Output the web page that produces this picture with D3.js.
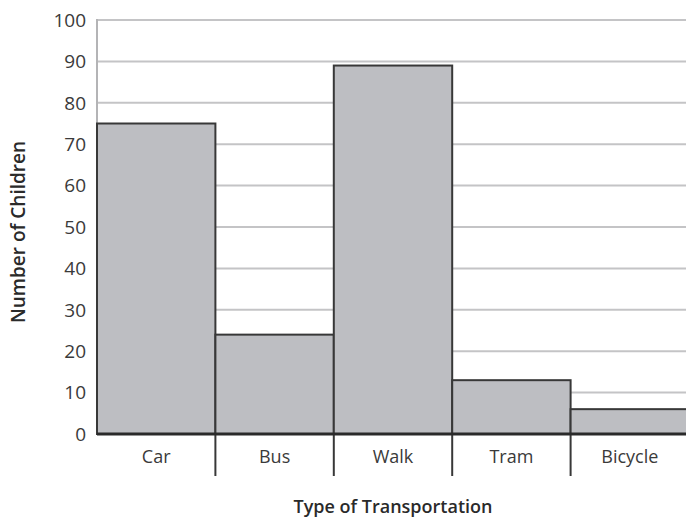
<!DOCTYPE html>
<html>
<head>
<meta charset="utf-8">
<script src="https://cdn.jsdelivr.net/npm/d3@7"></script>
<style>
  html, body { margin: 0; padding: 0; background: #fff; }
  svg { display: block; font-family: "Open Sans", "Lato", sans-serif; }
</style>
</head>
<body>
<svg id="chart" width="686" height="521"></svg>
<script>
// Ways children travel to school
const categories = ["Car", "Bus", "Walk", "Tram", "Bicycle"];
const children = [75, 24, 89, 13, 6];
const yTicks = [0, 10, 20, 30, 40, 50, 60, 70, 80, 90, 100];
const xTitle = "Type of Transportation";
const yTitle = "Number of Children";

const svg = d3.select("#chart");
const margin = { left: 97, top: 20, bottom: 434 };
const plotRight = 689; // last band runs past the visible edge

const x = d3.scaleBand().domain(categories).range([margin.left, plotRight]).padding(0);
const y = d3.scaleLinear().domain([0, 100]).range([margin.bottom, margin.top]);

// horizontal grid
svg.append("g").selectAll("line").data(yTicks.filter(d => d > 0)).join("line")
  .attr("x1", margin.left).attr("x2", plotRight)
  .attr("y1", d => y(d)).attr("y2", d => y(d))
  .attr("stroke", "#c4c4c6").attr("stroke-width", 2);

// left axis line
svg.append("line")
  .attr("x1", margin.left).attr("x2", margin.left)
  .attr("y1", y(100) - 1).attr("y2", y(0))
  .attr("stroke", "#b4b4b6").attr("stroke-width", 2);

// y tick labels
svg.append("g").selectAll("text").data(yTicks).join("text")
  .attr("x", 86).attr("y", d => y(d)).attr("dy", "0.36em")
  .attr("text-anchor", "end")
  .attr("font-size", 19).attr("fill", "#3a3a3a")
  .text(d => d);

// bars
svg.append("g").selectAll("rect").data(categories).join("rect")
  .attr("x", d => x(d))
  .attr("y", (d, i) => y(children[i]))
  .attr("width", x.bandwidth())
  .attr("height", (d, i) => y(0) - y(children[i]))
  .attr("fill", "#bdbec2")
  .attr("stroke", "#383838").attr("stroke-width", 2);

// separators between categories below the axis
svg.append("g").selectAll("line").data(categories.slice(1)).join("line")
  .attr("x1", d => x(d)).attr("x2", d => x(d))
  .attr("y1", y(0)).attr("y2", 476)
  .attr("stroke", "#383838").attr("stroke-width", 2);

// x axis baseline
svg.append("line")
  .attr("x1", margin.left).attr("x2", plotRight)
  .attr("y1", y(0)).attr("y2", y(0))
  .attr("stroke", "#2a2a2a").attr("stroke-width", 3);

// category labels
svg.append("g").selectAll("text").data(categories).join("text")
  .attr("x", d => x(d) + x.bandwidth() / 2).attr("y", 457).attr("dy", "0.36em")
  .attr("text-anchor", "middle")
  .attr("font-size", 18).attr("fill", "#3a3a3a")
  .text(d => d);

// axis titles
svg.append("text")
  .attr("x", (margin.left + plotRight) / 2).attr("y", 507).attr("dy", "0.36em")
  .attr("text-anchor", "middle")
  .attr("font-size", 18).attr("font-weight", 600).attr("fill", "#2a2a2a")
  .text(xTitle);

svg.append("text")
  .attr("transform", "translate(18,232) rotate(-90)")
  .attr("dy", "0.36em")
  .attr("text-anchor", "middle")
  .attr("font-size", 19).attr("font-weight", 600).attr("fill", "#2a2a2a")
  .text(yTitle);
</script>
</body>
</html>
